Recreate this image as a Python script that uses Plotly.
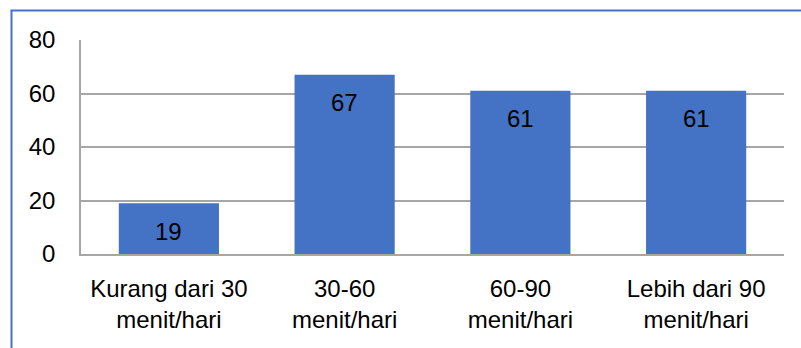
import plotly.graph_objects as go

categories = ["Kurang dari 30<br>menit/hari", "30-60<br>menit/hari", "60-90<br>menit/hari", "Lebih dari 90<br>menit/hari"]
values = [19, 67, 61, 61]
tick_vals = [0, 20, 40, 60, 80]

W, H = 801, 348
L, R, T, B = 81, 17, 40, 94
plot_w = W - L - R
plot_h = H - T - B

BAR = "#4472C4"
GRID = "#A6A6A6"
FONT = "Liberation Sans, Arial, sans-serif"
FS = 24

fig = go.Figure(go.Bar(
    x=categories, y=values,
    marker=dict(color=BAR, line=dict(width=0)),
    width=0.57,
    hoverinfo="skip",
))

# value labels sitting inside each bar, just below its top
for c, v in zip(categories, values):
    fig.add_annotation(x=c, y=v, text=str(v), showarrow=False,
                       yanchor="middle", yshift=-28,
                       font=dict(family=FONT, size=FS, color="#000000"))

# outer frame line (left and top edges)
def px_x(p):
    return (p - L) / plot_w

def px_y(p):
    return (H - B - p) / plot_h

fig.add_shape(type="line", xref="paper", yref="paper",
              x0=px_x(11.5), x1=px_x(11.5), y0=px_y(10.5), y1=px_y(H + 5),
              line=dict(color=BAR, width=2))
fig.add_shape(type="line", xref="paper", yref="paper",
              x0=px_x(10.5), x1=px_x(W + 5), y0=px_y(10.5), y1=px_y(10.5),
              line=dict(color=BAR, width=2))

fig.update_layout(
    width=W, height=H,
    margin=dict(l=L, r=R, t=T, b=B, pad=0),
    paper_bgcolor="white", plot_bgcolor="white",
    showlegend=False,
    bargap=0.43,
    font=dict(family=FONT, size=FS, color="#000000"),
    xaxis=dict(
        showgrid=False, showline=True, linecolor=GRID, linewidth=1.5,
        ticks="", tickfont=dict(family=FONT, size=FS, color="#000000"),
        ticklabelstandoff=12,
    ),
    yaxis=dict(
        range=[0, 80], tickvals=tick_vals, ticktext=[str(t) for t in tick_vals],
        showgrid=True, gridcolor=GRID, gridwidth=1.5,
        showline=True, linecolor=GRID, linewidth=1.5,
        zeroline=False, ticks="",
        tickfont=dict(family=FONT, size=FS, color="#000000"),
        ticklabelstandoff=19,
    ),
)

fig.write_html("out.html")
